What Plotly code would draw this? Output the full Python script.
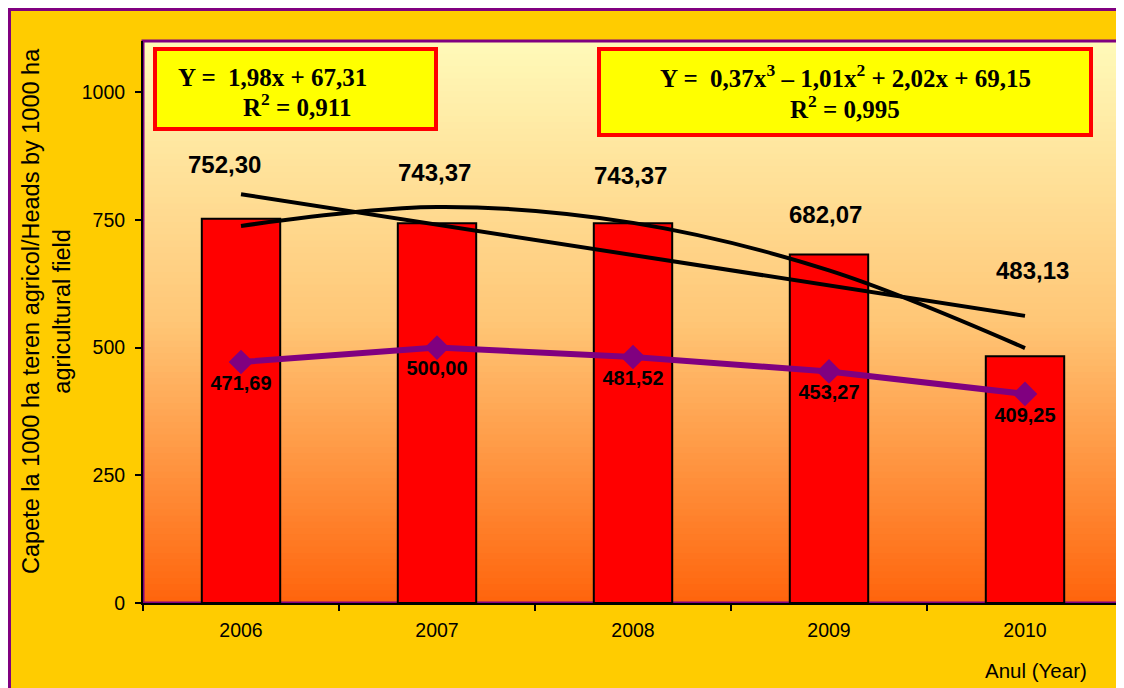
import plotly.graph_objects as go

# ---------------- data ----------------
years = ["2006", "2007", "2008", "2009", "2010"]
bar_values = [752.30, 743.37, 743.37, 682.07, 483.13]
bar_labels = ["752,30", "743,37", "743,37", "682,07", "483,13"]
line_values = [471.69, 500.00, 481.52, 453.27, 409.25]
line_labels = ["471,69", "500,00", "481,52", "453,27", "409,25"]
trend_linear_years = ["2006", "2010"]
trend_linear_values = [800, 562]
trend_poly_values = [738, 775, 744, 651, 499]
y_tick_values = [0, 250, 500, 750, 1000]
eq1_lines = ["Y = &nbsp;1,98x + 67,31", "R<sup>2</sup> = 0,911"]
eq2_lines = ["Y = &nbsp;0,37x<sup>3</sup> – 1,01x<sup>2</sup> + 2,02x + 69,15", "R<sup>2</sup> = 0,995"]
y_title = "Capete la 1000 ha teren agricol/Heads by 1000 ha<br>agricultural field"
x_title = "Anul (Year)"

# positions of the categories on the x axis
x_pos = list(range(len(years)))
trend_linear_pos = [years.index(y) for y in trend_linear_years]

# ---------------- layout geometry (screen pixels) ----------------
OFF = 8                      # page offset of the figure inside the window
W, H = 1124 - OFF, 688 - OFF
PLOT_X0, PLOT_X1, PLOT_Y0, PLOT_Y1 = 143, 1123, 41, 603   # in screen pixels
L = PLOT_X0 - OFF
R = W - (PLOT_X1 - OFF)
T = PLOT_Y0 - OFF
B = H - (PLOT_Y1 - OFF)
PW, PH = W - L - R, H - T - B
SANS = "Liberation Sans, Arial, sans-serif"
SERIF = "Liberation Serif, Times New Roman, serif"
PURPLE = "#800080"


def px(x):
    return (x - PLOT_X0) / PW


def py(y):
    return (PLOT_Y1 - y) / PH


# label offsets (pixels) for the bar value labels
bar_label_xshift = [-17, -3, -3, -4, 7]
bar_label_yshift = [54, 51, 48, 40, 86]

fig = go.Figure()

fig.add_trace(go.Bar(
    x=x_pos, y=bar_values, width=0.4,
    marker=dict(color="#FF0000", line=dict(color="black", width=2)),
    showlegend=False, hoverinfo="skip",
))

fig.add_trace(go.Scatter(
    x=trend_linear_pos, y=trend_linear_values, mode="lines",
    line=dict(color="black", width=4), showlegend=False, hoverinfo="skip",
))

fig.add_trace(go.Scatter(
    x=x_pos, y=trend_poly_values, mode="lines",
    line=dict(color="black", width=4, shape="spline", smoothing=1.0),
    showlegend=False, hoverinfo="skip",
))

fig.add_trace(go.Scatter(
    x=x_pos, y=line_values, mode="lines+markers+text",
    line=dict(color=PURPLE, width=6),
    marker=dict(symbol="diamond", size=19, color=PURPLE),
    text=line_labels, textposition="bottom center",
    textfont=dict(family=SANS, size=20, color="black", weight="bold"),
    showlegend=False, hoverinfo="skip",
))

shapes = []
# outer gold frame with purple border
shapes.append(dict(type="rect", xref="paper", yref="paper",
                   x0=px(9), x1=px(1160), y0=py(720), y1=py(9),
                   fillcolor="#FFCC00", line=dict(color=PURPLE, width=4), layer="below"))

# plot-area vertical gradient (light yellow -> orange)
stops = [(0.0, (255, 250, 185)), (0.5, (255, 198, 118)), (1.0, (255, 100, 12))]


def grad_color(t):
    for (t0, c0), (t1, c1) in zip(stops[:-1], stops[1:]):
        if t <= t1:
            f = (t - t0) / (t1 - t0)
            return "rgb(%d,%d,%d)" % tuple(round(a + (b - a) * f) for a, b in zip(c0, c1))
    return "rgb(%d,%d,%d)" % stops[-1][1]


N = 90
for i in range(N):
    t = (i + 0.5) / N
    shapes.append(dict(type="rect", xref="paper", yref="paper",
                       x0=0, x1=1, y0=1 - (i + 1) / N - 0.002, y1=1 - i / N,
                       fillcolor=grad_color(t), line=dict(width=0), layer="below"))

# plot area purple border
shapes.append(dict(type="rect", xref="paper", yref="paper", x0=0, x1=1, y0=0, y1=1,
                   line=dict(color=PURPLE, width=3), fillcolor="rgba(0,0,0,0)", layer="below"))

# equation boxes
shapes.append(dict(type="rect", xref="paper", yref="paper",
                   x0=px(155), x1=px(436), y0=py(129), y1=py(49),
                   fillcolor="#FFFF00", line=dict(color="#FF0000", width=4), layer="above"))
shapes.append(dict(type="rect", xref="paper", yref="paper",
                   x0=px(599), x1=px(1091), y0=py(135), y1=py(49),
                   fillcolor="#FFFF00", line=dict(color="#FF0000", width=4), layer="above"))

annotations = []
eqfont = dict(family=SERIF, size=25, color="black", weight="bold")
annotations.append(dict(xref="paper", yref="paper", x=px(176), y=py(77), text=eq1_lines[0],
                        showarrow=False, xanchor="left", yanchor="middle", font=eqfont))
annotations.append(dict(xref="paper", yref="paper", x=px(241), y=py(105), text=eq1_lines[1],
                        showarrow=False, xanchor="left", yanchor="middle", font=eqfont))
annotations.append(dict(xref="paper", yref="paper", x=px(845), y=py(76), text=eq2_lines[0],
                        showarrow=False, xanchor="center", yanchor="middle", font=eqfont))
annotations.append(dict(xref="paper", yref="paper", x=px(845), y=py(107), text=eq2_lines[1],
                        showarrow=False, xanchor="center", yanchor="middle", font=eqfont))

for xp, v, lab, dx, dy in zip(x_pos, bar_values, bar_labels, bar_label_xshift, bar_label_yshift):
    annotations.append(dict(x=xp, y=v, xref="x", yref="y", text=lab, showarrow=False,
                            xanchor="center", yanchor="middle", xshift=dx, yshift=dy,
                            font=dict(family=SANS, size=24, color="black", weight="bold")))

annotations.append(dict(xref="paper", yref="paper", x=px(46), y=py(311), text=y_title,
                        textangle=-90, showarrow=False, xanchor="center", yanchor="middle",
                        font=dict(family=SANS, size=23.5, color="black")))
annotations.append(dict(xref="paper", yref="paper", x=px(1036), y=py(670), text=x_title,
                        showarrow=False, xanchor="center", yanchor="middle",
                        font=dict(family=SANS, size=20.5, color="black")))

fig.update_layout(
    width=W, height=H, autosize=False,
    margin=dict(l=L, r=R, t=T, b=B, pad=0),
    paper_bgcolor="white", plot_bgcolor="rgba(0,0,0,0)",
    shapes=shapes, annotations=annotations,
    font=dict(family=SANS, color="black"),
)
fig.update_xaxes(
    range=[-0.5, len(years) - 0.5], autorange=False,
    tickmode="array", tickvals=x_pos, ticktext=years,
    showgrid=False, zeroline=False,
    showline=True, linecolor="black", linewidth=2,
    ticks="outside", ticklen=6, tickcolor="rgba(0,0,0,0)", ticklabelstandoff=3,
    minor=dict(tickmode="array", tickvals=[p - 0.5 for p in x_pos] + [x_pos[-1] + 0.5],
               ticks="outside", ticklen=6, tickwidth=2, tickcolor="black", showgrid=False),
    tickfont=dict(family=SANS, size=19.5, color="black"),
)
fig.update_yaxes(
    range=[0, 1100], autorange=False, tickvals=y_tick_values, showgrid=False, zeroline=False,
    showline=True, linecolor="black", linewidth=2,
    ticks="outside", ticklen=6, tickwidth=2, tickcolor="black", ticklabelstandoff=6,
    tickfont=dict(family=SANS, size=19.5, color="black"),
)

fig.write_html("out.html")
